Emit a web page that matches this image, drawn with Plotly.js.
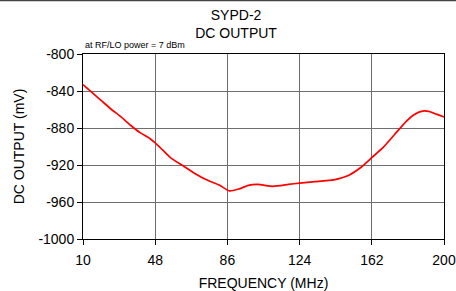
<!DOCTYPE html>
<html>
<head>
<meta charset="utf-8">
<script src="https://cdn.plot.ly/plotly-3.0.1.min.js"></script>
<style>html,body{margin:0;padding:0;background:#fff;}#chart{width:456px;height:291px;}</style>
</head>
<body>
<div id="chart"></div>
<script>
const freqMHz = [10, 15, 20, 25, 30, 35, 40, 45, 48, 52, 56, 62, 68, 75, 82, 87, 92, 97, 102, 110, 118, 124, 132, 142, 150, 156, 162, 168, 174, 180, 184, 188, 192, 196, 200];
const dcOutputMV = [-833, -842, -851, -860, -868, -877, -885, -891, -896, -904, -912, -920, -928, -936, -942, -948, -946, -942, -941, -943, -941, -939.5, -938, -936, -931, -923, -912, -901, -887, -873, -866, -862, -862, -865, -868];
const xTicks = [10, 48, 86, 124, 162, 200];
const yTicks = [-800, -840, -880, -920, -960, -1000];

const font = 'Arial, "Liberation Sans", sans-serif';
const trace = {
  x: freqMHz, y: dcOutputMV, type: 'scatter', mode: 'lines',
  line: {color: '#ff0000', width: 1.7, shape: 'spline', smoothing: 0.5},
  hoverinfo: 'skip'
};
const axisCommon = {
  showline: true, mirror: true, linecolor: '#000', linewidth: 1,
  showgrid: true, gridcolor: '#6e6e6e', gridwidth: 1,
  ticks: 'outside', ticklen: 5, tickcolor: '#000', tickwidth: 1,
  zeroline: false, tickfont: {family: font, size: 14, color: '#000'}
};
const layout = {
  width: 456, height: 291,
  margin: {l: 83, r: 12, t: 54, b: 52},
  paper_bgcolor: '#fff', plot_bgcolor: '#fff',
  showlegend: false,
  title: {text: 'SYPD-2<br>DC OUTPUT', font: {family: font, size: 14, color: '#000'},
          xref: 'paper', x: 0.424, xanchor: 'center', yref: 'container', y: 0.932, yanchor: 'middle'},
  xaxis: Object.assign({}, axisCommon, {
    range: [10, 200], tickvals: xTicks, ticktext: xTicks.map(String), ticklabelstandoff: 3,
    title: {text: 'FREQUENCY (MHz)', font: {family: font, size: 14, color: '#000'}, standoff: 12}
  }),
  yaxis: Object.assign({}, axisCommon, {
    range: [-1000, -800], tickvals: yTicks, ticktext: yTicks.map(String),
    title: {text: 'DC OUTPUT (mV)', font: {family: font, size: 14, color: '#000'}, standoff: 10}
  }),
  annotations: [{
    text: 'at RF/LO power = 7 dBm', xref: 'paper', yref: 'paper', x: 0, y: 1.05,
    xanchor: 'left', yanchor: 'middle', showarrow: false,
    font: {family: font, size: 9, color: '#000'}
  }],
  shapes: [{
    type: 'line', xref: 'paper', yref: 'paper', x0: -0.25, x1: 1.05, y0: 1.289, y1: 1.289,
    line: {color: '#444', width: 1.5}
  }]
};
Plotly.newPlot('chart', [trace], layout, {staticPlot: true, displayModeBar: false});
</script>
</body>
</html>
